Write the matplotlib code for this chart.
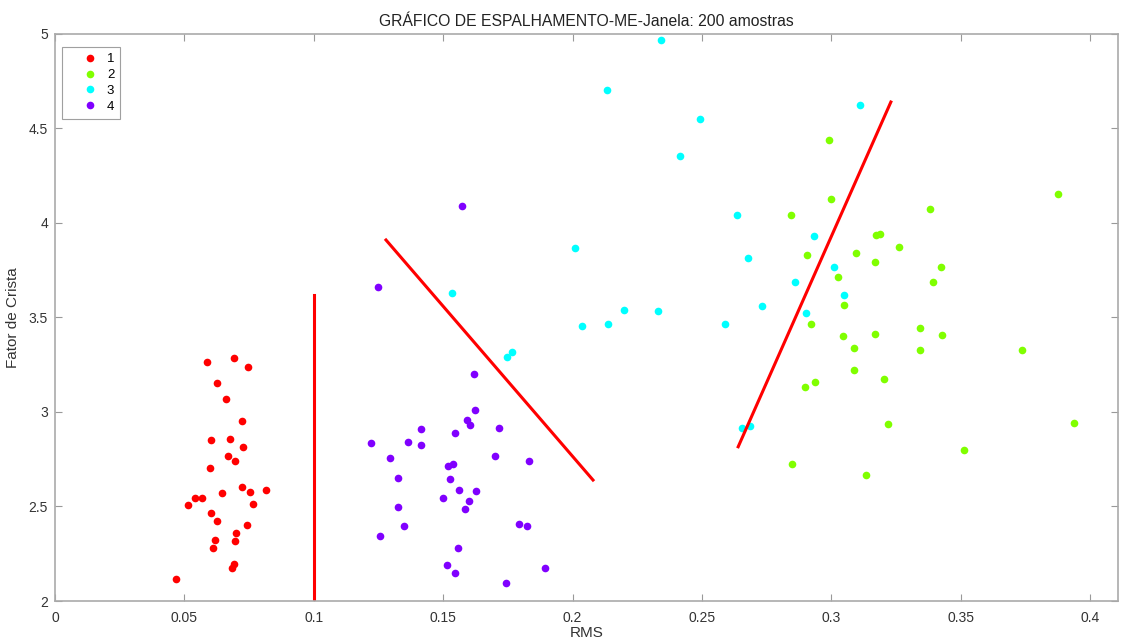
import matplotlib
matplotlib.use("Agg")
import matplotlib.pyplot as plt
from matplotlib.legend_handler import HandlerLine2D

plt.rcParams['font.family'] = ['Liberation Sans', 'DejaVu Sans']

# classe 1
x1 = [0.0587, 0.0692, 0.0745, 0.0625, 0.0661, 0.0724, 0.0603, 0.0677, 0.0728, 0.0668,
      0.0696, 0.0598, 0.0724, 0.0644, 0.0753, 0.0816, 0.0541, 0.0569, 0.0515, 0.0766,
      0.0602, 0.0625, 0.0742, 0.0698, 0.0617, 0.0694, 0.0611, 0.0690, 0.0684, 0.0469]
y1 = [3.265, 3.287, 3.236, 3.155, 3.069, 2.954, 2.853, 2.856, 2.816, 2.767,
      2.739, 2.702, 2.602, 2.571, 2.575, 2.589, 2.543, 2.547, 2.508, 2.513,
      2.467, 2.425, 2.400, 2.358, 2.321, 2.316, 2.279, 2.194, 2.176, 2.118]

# classe 2
x2 = [0.3877, 0.2991, 0.3000, 0.2845, 0.3380, 0.3174, 0.3188, 0.3261, 0.2907, 0.3094,
      0.3167, 0.3424, 0.3027, 0.3393, 0.3050, 0.2920, 0.3344, 0.3045, 0.3168, 0.3428,
      0.3087, 0.3341, 0.3738, 0.3086, 0.2937, 0.2899, 0.3204, 0.3220, 0.3936, 0.3511,
      0.2847, 0.3134]
y2 = [4.155, 4.441, 4.125, 4.044, 4.072, 3.937, 3.943, 3.875, 3.831, 3.840,
      3.795, 3.767, 3.714, 3.689, 3.568, 3.467, 3.446, 3.401, 3.413, 3.407,
      3.337, 3.330, 3.330, 3.221, 3.160, 3.131, 3.173, 2.938, 2.942, 2.800,
      2.726, 2.667]

# classe 3
x3 = [0.2342, 0.2132, 0.2491, 0.2414, 0.3112, 0.2634, 0.2010, 0.2679, 0.2933, 0.2858,
      0.3009, 0.3047, 0.2731, 0.2901, 0.2199, 0.2329, 0.2037, 0.2136, 0.2588, 0.2656,
      0.2687, 0.1745, 0.1765, 0.1534]
y3 = [4.967, 4.704, 4.549, 4.354, 4.623, 4.044, 3.868, 3.815, 3.930, 3.686,
      3.766, 3.621, 3.561, 3.524, 3.538, 3.533, 3.457, 3.466, 3.467, 2.914,
      2.928, 3.291, 3.317, 3.630]

# classe 4
x4 = [0.1618, 0.1623, 0.1592, 0.1602, 0.1414, 0.1547, 0.1717, 0.1220, 0.1365, 0.1413,
      0.1294, 0.1700, 0.1833, 0.1519, 0.1537, 0.1327, 0.1527, 0.1560, 0.1627, 0.1499,
      0.1599, 0.1584, 0.1327, 0.1350, 0.1794, 0.1824, 0.1257, 0.1556, 0.1514, 0.1547,
      0.1895, 0.1742, 0.1248, 0.1573]
y4 = [3.203, 3.012, 2.958, 2.933, 2.910, 2.889, 2.914, 2.838, 2.843, 2.825,
      2.755, 2.766, 2.741, 2.713, 2.723, 2.649, 2.644, 2.587, 2.580, 2.547,
      2.529, 2.487, 2.496, 2.397, 2.406, 2.398, 2.344, 2.279, 2.190, 2.148,
      2.176, 2.095, 3.661, 4.090]

# fronteiras de decisao
fx1 = [0.1001, 0.1001]
fy1 = [2.0, 3.619]
fx2 = [0.1279, 0.2079]
fy2 = [3.910, 2.640]
fx3 = [0.2640, 0.3230]
fy3 = [2.816, 4.640]

cores = ['#ff0000', '#80ff00', '#00ffff', '#8000ff']

fig = plt.figure(figsize=(11.23, 6.41), dpi=100)
ax = fig.add_axes([0.049, 0.0624, 0.9466, 0.8846])

pontos = []
for xs, ys, c, lab in zip([x1, x2, x3, x4], [y1, y2, y3, y4], cores, ['1', '2', '3', '4']):
    p, = ax.plot(xs, ys, 'o', color=c, markersize=5.5, markeredgewidth=0, label=lab)
    pontos.append(p)

for fx, fy in [(fx1, fy1), (fx2, fy2), (fx3, fy3)]:
    ax.plot(fx, fy, '-', color='#ff0000', linewidth=2.2)

ax.set_xlim(0, 0.4108)
ax.set_ylim(2, 5)
ax.set_xticks([0, 0.05, 0.1, 0.15, 0.2, 0.25, 0.3, 0.35, 0.4])
ax.set_xticklabels(['0', '0.05', '0.1', '0.15', '0.2', '0.25', '0.3', '0.35', '0.4'])
ax.set_yticks([2, 2.5, 3, 3.5, 4, 4.5, 5])
ax.set_yticklabels(['2', '2.5', '3', '3.5', '4', '4.5', '5'])
ax.tick_params(direction='in', top=True, right=True, length=5, width=0.8,
               color='#999999', labelcolor='#333333', labelsize=10)
ax.tick_params(axis='x', pad=7)
ax.tick_params(axis='y', pad=5)
for s in ax.spines.values():
    s.set_color('#aaaaaa')
    s.set_linewidth(1.2)

ax.set_title('GRÁFICO DE ESPALHAMENTO-ME-Janela: 200 amostras', fontsize=11.3, color='#222222', pad=6)
ax.set_xlabel('RMS', fontsize=11, color='#333333', labelpad=1)
ax.set_ylabel('Fator de Crista', fontsize=11, color='#333333', labelpad=6)

hm = {p: HandlerLine2D(numpoints=1, xpad=0.9) for p in pontos}
leg = ax.legend(handles=pontos, handler_map=hm, loc='upper left', fontsize=9.5,
                frameon=True, fancybox=False, handletextpad=0.5, borderpad=0.45,
                labelspacing=0.28, borderaxespad=0, bbox_to_anchor=(0.0066, 0.977),
                handlelength=2.45)
leg.get_frame().set_edgecolor('#888888')
leg.get_frame().set_linewidth(0.8)

fig.savefig('out.png', dpi=100)
